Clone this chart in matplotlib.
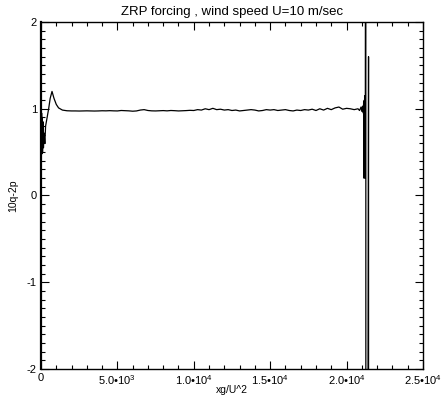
import numpy as np
import matplotlib
matplotlib.use("Agg")
import matplotlib.pyplot as plt
from matplotlib.ticker import MultipleLocator, FixedLocator

plt.rcParams['font.family'] = ['Liberation Sans', 'DejaVu Sans']
plt.rcParams['mathtext.fontset'] = 'custom'
plt.rcParams['mathtext.rm'] = 'Liberation Sans'

# start-up transient near the origin
x_start = [0, 10, 20, 40, 60, 80, 100, 130, 160, 200, 250, 300, 400, 500, 600, 720, 850, 1000, 1150, 1400, 1700]
y_start = [1.0, -3.0, 0.45, 0.95, 0.48, 0.9, 0.5, 0.85, 0.55, 0.72, 0.6, 0.8, 0.9, 1.0, 1.12, 1.2, 1.12, 1.05, 1.01, 0.985, 0.977]

# long, nearly flat plateau
x_flat = [2000, 2250, 2500, 2750, 3000, 3250, 3500, 3750, 4000, 4250, 4500, 4750, 5000,
          5250, 5500, 5750, 6000, 6250, 6500, 6750, 7000, 7250, 7500,
          7750, 8000, 8250, 8500, 8750, 9000, 9250, 9500, 9750, 10000,
          10250, 10500, 10750, 11000, 11250, 11500, 11750, 12000, 12250, 12500,
          12750, 13000, 13250, 13500, 13750, 14000, 14250, 14500, 14750, 15000,
          15250, 15500, 15750, 16000, 16250, 16500, 16750, 17000, 17250, 17500,
          17750, 18000, 18250, 18500, 18750, 19000, 19250, 19500, 19750, 20000,
          20250, 20500, 20750]
y_flat = [0.975, 0.975, 0.974, 0.975, 0.976, 0.975, 0.974, 0.975, 0.977, 0.976, 0.978, 0.976, 0.975,
          0.98, 0.978, 0.976, 0.972, 0.975, 0.985, 0.99, 0.98, 0.976, 0.975,
          0.977, 0.979, 0.976, 0.98, 0.978, 0.975, 0.977, 0.979, 0.982, 0.98,
          0.99, 0.985, 1.0, 0.99, 1.005, 0.99, 0.995, 0.985, 0.99, 0.98,
          0.985, 0.975, 0.98, 0.985, 0.99, 0.985, 0.975, 0.98, 0.99, 0.985,
          0.99, 0.98, 0.985, 0.99, 0.98, 0.975, 0.985, 0.98, 0.99, 0.985,
          0.995, 0.98, 1.0, 0.985, 1.005, 0.99, 1.01, 1.02, 0.995, 1.005,
          1.0, 0.99, 1.0]

# breakdown at the far end
x_end = [20850, 20950, 21000, 21050, 21100, 21120, 21140, 21160, 21180, 21200, 21215, 21230,
         21260, 21270, 21440, 21450]
y_end = [0.98, 1.02, 0.97, 1.03, 0.95, 1.08, 0.2, 1.1, 0.25, 1.15, 0.2, 0.9,
         8.0, -20.0, 1.6, -20.0]

x = np.array(x_start + x_flat + x_end)
y = np.array(y_start + y_flat + y_end)

x_ticks = [0, 5000, 10000, 15000, 20000, 25000]
x_labels = ['0', '5.0•10$^3$', '1.0•10$^4$', '1.5•10$^4$', '2.0•10$^4$', '2.5•10$^4$']
y_ticks = [-2, -1, 0, 1, 2]
y_labels = ['-2', '-1', '0', '1', '2']

fig = plt.figure(figsize=(4.41, 4.01), dpi=100)
ax = fig.add_axes([0.093, 0.080, 0.866, 0.865])
ax.plot(x, y, color='black', lw=0.9)

ax.set_xlim(0, 25000)
ax.set_ylim(-2, 2)
ax.xaxis.set_major_locator(FixedLocator(x_ticks))
ax.set_xticklabels(x_labels)
ax.xaxis.set_minor_locator(MultipleLocator(1000))
ax.yaxis.set_major_locator(FixedLocator(y_ticks))
ax.set_yticklabels(y_labels)
ax.yaxis.set_minor_locator(MultipleLocator(0.1))
ax.tick_params(which='both', direction='in', top=True, right=True, labelsize=8, width=0.8)
ax.tick_params(which='major', length=6)
ax.tick_params(which='minor', length=3)
ax.tick_params(axis='x', which='major', pad=3)
ax.tick_params(axis='y', which='major', pad=3)
for name, s in ax.spines.items():
    s.set_linewidth(1.0)
ax.spines['left'].set_linewidth(1.6)

ax.set_title('ZRP forcing , wind speed U=10 m/sec', fontsize=9.5, pad=5)
ax.set_xlabel('xg/U^2', fontsize=7.5, labelpad=-1)
ax.set_ylabel('10q-2p', fontsize=7.5, labelpad=6)

fig.savefig('out.png', dpi=100)
